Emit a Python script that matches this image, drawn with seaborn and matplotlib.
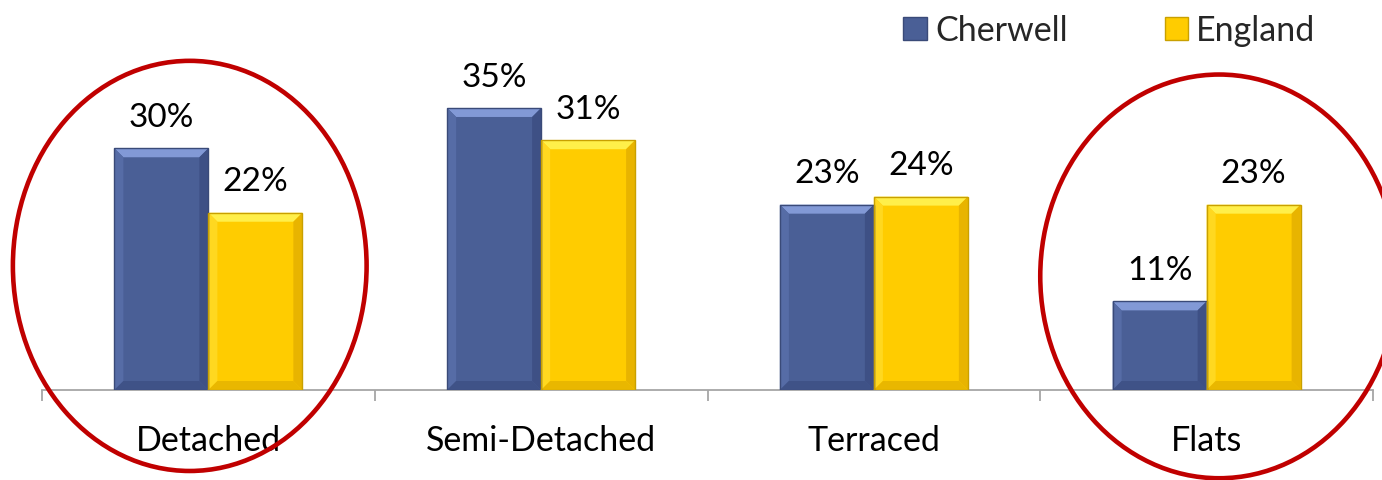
import matplotlib
matplotlib.use("Agg")
import matplotlib.pyplot as plt
from matplotlib.patches import Ellipse, Polygon
from matplotlib.ticker import FixedLocator
import pandas as pd
import seaborn as sns

# Housing type shares (%)
categories = ["Detached", "Semi-Detached", "Terraced", "Flats"]
cherwell = [30, 35, 23, 11]
england = [22, 31, 24, 23]
series_names = ["Cherwell", "England"]

df = pd.DataFrame({
    "type": categories * 2,
    "area": [series_names[0]] * 4 + [series_names[1]] * 4,
    "share": cherwell + england,
})

sns.set_theme(style="white")
plt.rcParams["font.family"] = ["Lato", "DejaVu Sans"]

fig = plt.figure(figsize=(13.82, 4.8), dpi=100)
ax = fig.add_axes([42 / 1382, 90 / 480, 1331 / 1382, 390 / 480])

palette = {"Cherwell": "#4A5F96", "England": "#FFCC00"}
sns.barplot(data=df, x="type", y="share", hue="area", order=categories,
            hue_order=series_names, palette=palette, width=0.565,
            saturation=1, edgecolor="none", linewidth=0, ax=ax)

ax.set_xlim(-0.5, 3.5)
ax.set_ylim(0, 48.4)
ax.set_xlabel("")
ax.set_ylabel("")
ax.set_yticks([])
for s in ["left", "right", "top"]:
    ax.spines[s].set_visible(False)
ax.spines["bottom"].set_color("#A6A6A6")
ax.spines["bottom"].set_linewidth(1.3)

ax.xaxis.set_minor_locator(FixedLocator([-0.5, 0.5, 1.5, 2.5, 3.5]))
ax.tick_params(axis="x", which="minor", bottom=True, length=8, width=1.3,
               color="#A6A6A6", direction="out")
ax.tick_params(axis="x", which="major", length=0, pad=25, labelsize=24.5,
               labelcolor="black")

# Bevelled faces on each bar
shades = {
    "blue": dict(top="#8299D6", left="#566CA6", right="#3E5085",
                 bottom="#3F5287", edge="#3A4A78"),
    "yellow": dict(top="#FFEF4A", left="#FFD820", right="#E8B400",
                   bottom="#E9B700", edge="#C9A000"),
}
inv = ax.transData.inverted()
fig.canvas.draw()
for container, key in zip(ax.containers, ["blue", "yellow"]):
    sh = shades[key]
    for p in container.patches:
        (x0, y0) = ax.transData.transform((p.get_x(), p.get_y()))
        (x1, y1) = ax.transData.transform((p.get_x() + p.get_width(),
                                           p.get_y() + p.get_height()))
        b = 9
        faces = {
            "top": [(x0, y1), (x1, y1), (x1 - b, y1 - b), (x0 + b, y1 - b)],
            "left": [(x0, y0), (x0 + b, y0 + b), (x0 + b, y1 - b), (x0, y1)],
            "right": [(x1, y0), (x1, y1), (x1 - b, y1 - b), (x1 - b, y0 + b)],
            "bottom": [(x0, y0), (x1, y0), (x1 - b, y0 + b), (x0 + b, y0 + b)],
        }
        for face, pts in faces.items():
            ax.add_patch(Polygon(inv.transform(pts), closed=True,
                                 facecolor=sh[face], edgecolor="none", zorder=3))
        ax.add_patch(Polygon(inv.transform([(x0, y0), (x1, y0), (x1, y1), (x0, y1)]),
                             closed=True, facecolor="none", edgecolor=sh["edge"],
                             linewidth=1.0, zorder=4))

# Value labels
for container in ax.containers:
    ax.bar_label(container, labels=[f"{v:.0f}%" for v in container.datavalues],
                 padding=11, fontsize=24, color="black")

# Legend
handles, labels = ax.get_legend_handles_labels()
for h, key in zip(handles, ["blue", "yellow"]):
    h.set_edgecolor(shades[key]["edge"])
    h.set_linewidth(1.0)
ax.legend(handles, labels, ncol=2, frameon=False, loc="upper right",
          bbox_to_anchor=(1336 / 1382, 1.012), bbox_transform=fig.transFigure,
          fontsize=24.5, handlelength=0.68, handleheight=0.68,
          handletextpad=0.25, columnspacing=2.85, borderaxespad=0.2)

# Highlight rings around Detached and Flats
ring_kw = dict(facecolor="none", edgecolor="#C00000", linewidth=3.3,
               clip_on=False, zorder=6)
ax.add_patch(Ellipse((-0.056, 15.4), 1.063, 50.9, **ring_kw))
ax.add_patch(Ellipse((3.0375, 14.1), 1.075, 50.1, **ring_kw))

fig.savefig("out.png", dpi=100)
